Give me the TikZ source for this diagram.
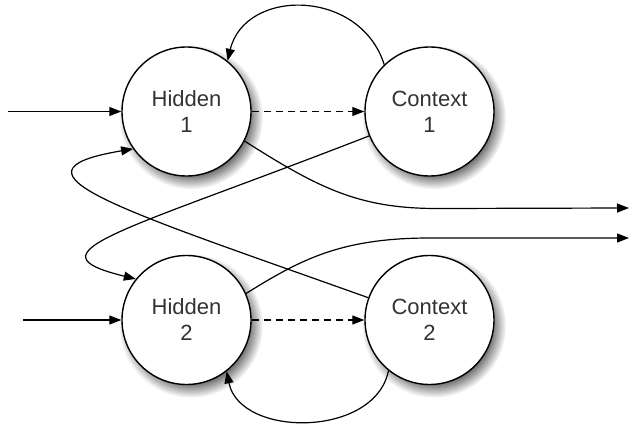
\documentclass[tikz,border=0pt]{standalone}
\usepackage{fontspec}
\setmainfont{Liberation Sans}
\usetikzlibrary{shadows, arrows.meta}

\pgfdeclareradialshading{nodeshadow}{\pgfpoint{0bp}{0bp}}{%
    color(0bp)=(black!55);
    color(20bp)=(black!55);
    color(25bp)=(white);
    color(50bp)=(white)}

\tikzstyle{neuron} = [
    circle,
    minimum size=129pt,
    inner sep=0pt,
    align=center,
    line width=1.4pt,
    draw=black,
    fill=white,
    text=black!80,
    font=\fontsize{22}{26}\selectfont,
    general shadow={shading=nodeshadow, shadow xshift=4pt, shadow yshift=-5pt, shadow scale=1.12}
]
\tikzstyle{arrow} = [line width=1.2pt, -{Triangle[length=12pt, width=9pt]}]
\tikzstyle{dasharrow} = [arrow, dash pattern=on 7pt off 5pt]

\begin{document}
\begin{tikzpicture}[x=1pt, y=-1pt, node distance=243pt]

\useasboundingbox (0,0) rectangle (630,425);

\node (h1) [neuron] at (186.5,111.5) {Hidden\\1};

\node (c1) [neuron, right of=h1] {Context\\1};

\node (h2) [neuron, node distance=208.5pt, below of=h1] {Hidden\\2};

\node (c2) [neuron, right of=h2] {Context\\2};

\coordinate (in1) at (8,111.5);
\coordinate (in2) at (23,320);
\coordinate (out1) at (629,208);
\coordinate (out2) at (629,238);

% inputs and copies
\draw [arrow] (in1) -- (h1);
\draw [arrow] (in2) -- (h2);
\draw [dasharrow] (h1) -- (c1);
\draw [dasharrow] (h2) -- (c2);

% context back to its own hidden unit
\draw [arrow] (c1.134) .. controls (360,-12) and (245,-12) .. (h1.51);
\draw [arrow] (c2.231) .. controls (375,438) and (240,438) .. (h2.308);

% context to the other hidden unit
\draw [arrow] (c1.202) .. controls (120,233) and (25,252) .. (h2.141);
\draw [arrow] (c2.160) .. controls (120,209) and (-5,172) .. (h1.215);

% outputs
\draw [arrow] (h1.333) .. controls (320,189) and (360,209) .. (440,208.5) -- (out1);
\draw [arrow] (h2.24) .. controls (300,260) and (340,238) .. (430,238) -- (out2);

\end{tikzpicture}
\end{document}
